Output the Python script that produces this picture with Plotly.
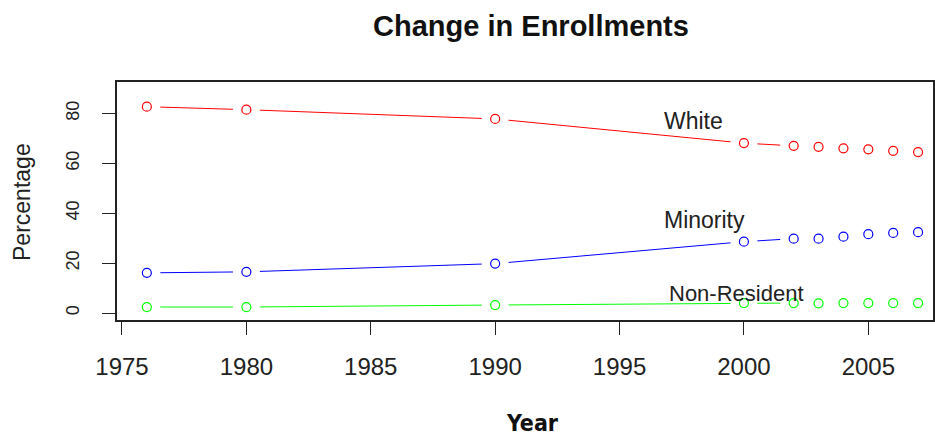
import plotly.graph_objects as go

years = [1976, 1980, 1990, 2000, 2002, 2003, 2004, 2005, 2006, 2007]
white = [82.7, 81.5, 77.8, 68.1, 67.0, 66.6, 66.0, 65.6, 65.0, 64.5]
minority = [16.1, 16.5, 19.8, 28.6, 29.8, 29.8, 30.6, 31.6, 32.1, 32.4]
non_resident = [2.4, 2.4, 3.2, 4.0, 4.0, 3.9, 4.0, 4.0, 4.0, 4.0]

series_names = ["White", "Minority", "Non-Resident"]
series_colors = ["#FF0000", "#0000FF", "#00FF00"]
label_x = [1996.7, 1996.7, 1996.9]
label_y = [77.0, 37.3, 7.8]
label_size = [23, 23, 22]

x_ticks = [1975, 1980, 1985, 1990, 1995, 2000, 2005]
y_ticks = [0, 20, 40, 60, 80]

# R's type="b": lines only drawn where the gap between points is wide enough
n_line = 5

fig = go.Figure()
for vals, col in zip([white, minority, non_resident], series_colors):
    fig.add_trace(go.Scatter(x=years[:n_line], y=vals[:n_line], mode="lines",
                             line=dict(color=col, width=1), hoverinfo="skip"))
for vals in [white, minority, non_resident]:
    # white mask gives the gap around each point
    fig.add_trace(go.Scatter(x=years, y=vals, mode="markers",
                             marker=dict(size=27, color="white", line=dict(width=0)),
                             hoverinfo="skip"))
for vals, col, name in zip([white, minority, non_resident], series_colors, series_names):
    fig.add_trace(go.Scatter(x=years, y=vals, mode="markers", name=name,
                             marker=dict(size=9, color="white", symbol="circle",
                                         line=dict(color=col, width=1.2))))

for name, lx, ly, fs in zip(series_names, label_x, label_y, label_size):
    fig.add_annotation(x=lx, y=ly, text=name, showarrow=False, xanchor="left",
                       yanchor="middle",
                       font=dict(family="Liberation Sans, Arial", size=fs, color="#222"))

fig.add_annotation(xref="paper", yref="paper", x=0.5086, y=-0.432, text="<b>Year</b>",
                   showarrow=False, yanchor="middle",
                   font=dict(family="DejaVu Sans Condensed, Liberation Sans",
                             size=23, color="#111"))
fig.add_annotation(xref="paper", yref="paper", x=-0.1164, y=0.496, text="Percentage",
                   showarrow=False, textangle=-90, xanchor="center", yanchor="middle",
                   font=dict(family="Liberation Sans, Arial", size=23, color="#222"))

fig.update_layout(
    width=935, height=438,
    margin=dict(l=117, r=2, t=82, b=118),
    paper_bgcolor="white", plot_bgcolor="white",
    showlegend=False,
    title=dict(text="<b>Change in Enrollments</b>", x=531 / 935, xanchor="center",
               y=1 - 26 / 438, yanchor="middle",
               font=dict(family="Liberation Sans, Arial", size=29, color="#111")),
    xaxis=dict(range=[1974.8, 2007.6], tickvals=x_ticks, ticks="outside", ticklen=13,
               tickcolor="#222", tickwidth=1.3, showgrid=False, zeroline=False,
               showline=True, linecolor="#222", linewidth=1.5, mirror=True,
               ticklabelstandoff=11, automargin=False,
               tickfont=dict(family="Liberation Sans, Arial", size=24, color="#222")),
    yaxis=dict(range=[-2.8, 92.6], tickvals=y_ticks, ticks="outside", ticklen=13,
               tickcolor="#222", tickwidth=1.3, showgrid=False, zeroline=False,
               showline=True, linecolor="#222", linewidth=1.5, mirror=True,
               tickangle=-90, ticklabelstandoff=16, automargin=False,
               tickfont=dict(family="Liberation Sans, Arial", size=18, color="#222")),
)

fig.write_html("out.html", config={"displayModeBar": False},
               post_script="document.body.style.margin = '0';")
